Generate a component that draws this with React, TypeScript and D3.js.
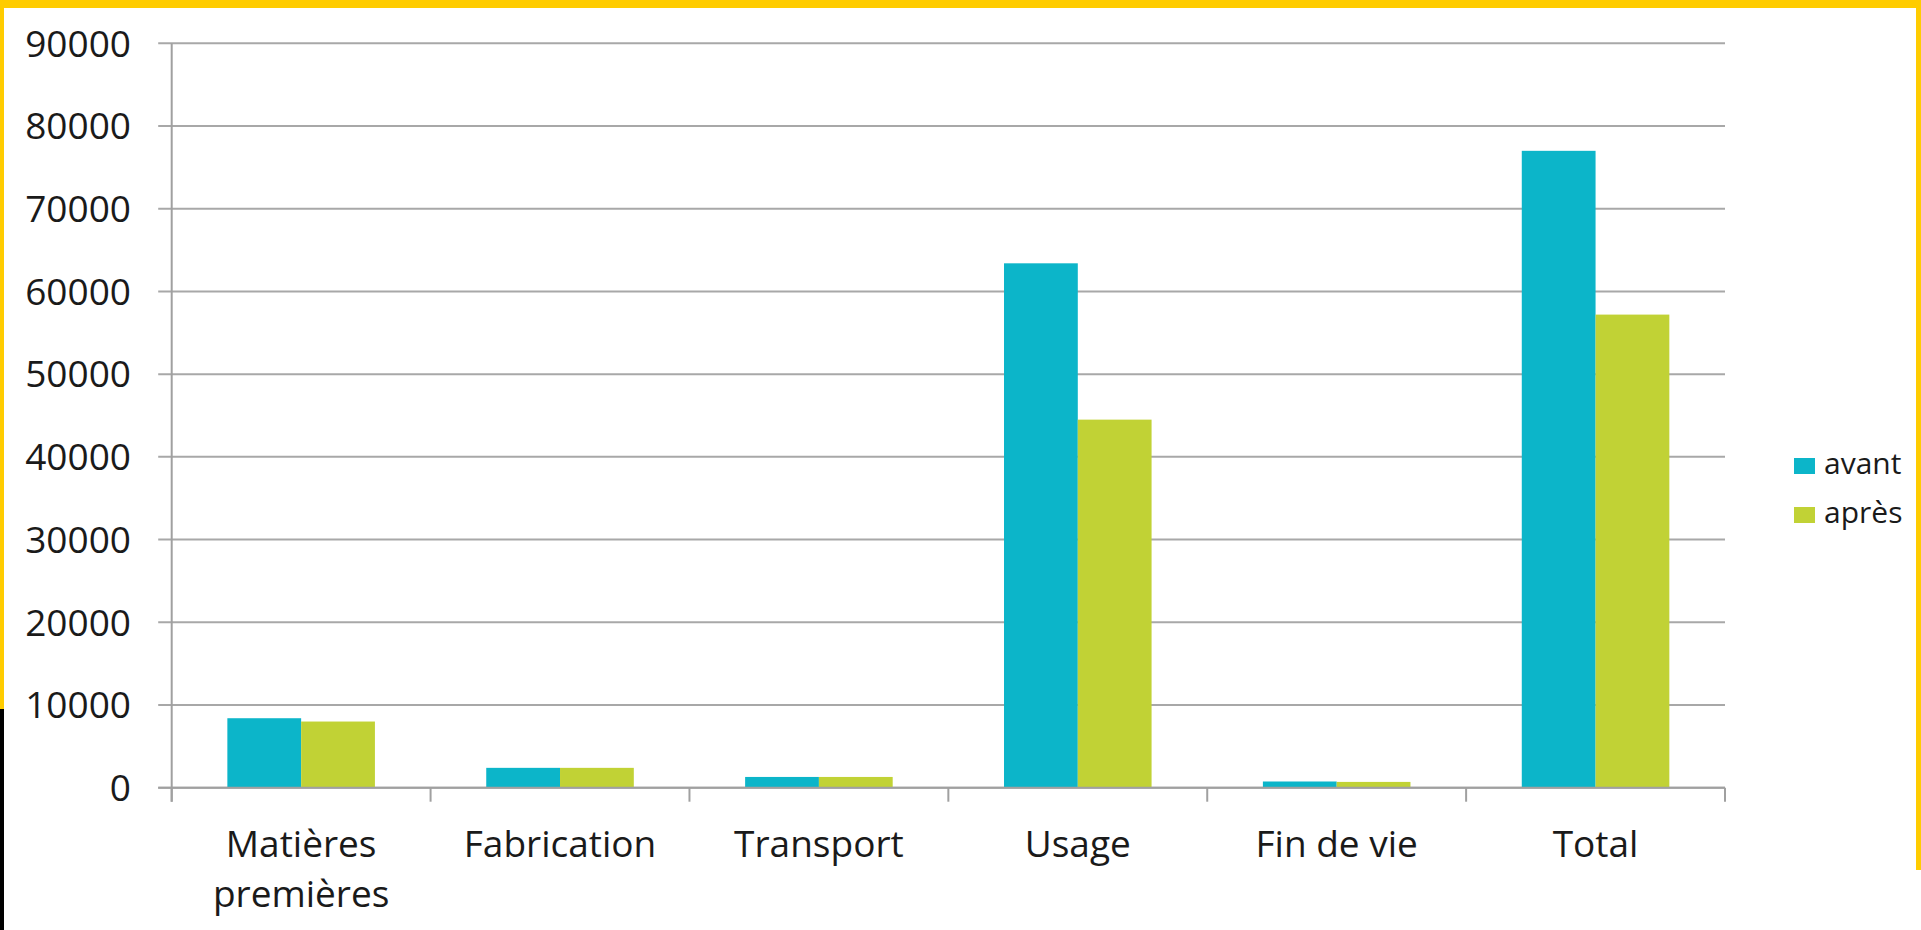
import React, { useEffect, useRef } from "react";
import * as d3 from "d3";

// chart data
const categories = ["Matières premières", "Fabrication", "Transport", "Usage", "Fin de vie", "Total"];
const seriesNames = ["avant", "après"];
const avantValues = [8400, 2400, 1300, 63400, 750, 77000];
const apresValues = [8000, 2400, 1300, 44500, 700, 57200];
const yTicks = [0, 10000, 20000, 30000, 40000, 50000, 60000, 70000, 80000, 90000];

const colors = ["#0cb5c9", "#c1d235"];
const FONT = "'Open Sans', sans-serif";

const App: React.FC = () => {
  const ref = useRef<SVGSVGElement>(null);

  useEffect(() => {
    drawChart();
  }, []);

  const drawChart = () => {
    const width = 1921;
    const height = 930;
    const left = 171.7;
    const right = 1725;
    const top = 43.3;
    const bottom = 787.7;

    const svg = d3.select(ref.current);
    svg.selectAll("*").remove();

    // background and frame
    svg.append("rect").attr("width", width).attr("height", height).attr("fill", "#ffffff");
    svg.append("rect").attr("x", 0).attr("y", 0).attr("width", width).attr("height", 8).attr("fill", "#ffcc00");
    svg.append("rect").attr("x", 0).attr("y", 0).attr("width", 4).attr("height", 709).attr("fill", "#ffcc00");
    svg.append("rect").attr("x", 0).attr("y", 709).attr("width", 4).attr("height", height - 709).attr("fill", "#000000");
    svg.append("rect").attr("x", 1916).attr("y", 0).attr("width", 5).attr("height", 870).attr("fill", "#ffcc00");

    const y = d3.scaleLinear().domain([0, 90000]).range([bottom, top]);
    const x0 = d3
      .scaleBand<string>()
      .domain(categories)
      .range([left, right])
      .paddingInner(0.43)
      .paddingOuter(0.215);
    const x1 = d3.scaleBand<string>().domain(seriesNames).range([0, x0.bandwidth()]);
    const step = x0.step();

    // gridlines (extend left as ticks)
    svg
      .append("g")
      .selectAll("line")
      .data(yTicks)
      .join("line")
      .attr("x1", left - 13.5)
      .attr("x2", right)
      .attr("y1", (d) => y(d))
      .attr("y2", (d) => y(d))
      .attr("stroke", "#a8a8a8")
      .attr("stroke-width", 2);

    // y labels
    svg
      .append("g")
      .selectAll("text")
      .data(yTicks)
      .join("text")
      .attr("x", 131)
      .attr("y", (d) => y(d))
      .attr("dy", "0.36em")
      .attr("text-anchor", "end")
      .style("font-family", FONT)
      .style("font-size", "37px")
      .attr("fill", "#1a1a1a")
      .text((d) => String(d));

    // bars
    const rows = categories.map((c, i) => ({ cat: c, vals: [avantValues[i], apresValues[i]] }));
    const groups = svg
      .append("g")
      .selectAll("g")
      .data(rows)
      .join("g")
      .attr("transform", (d) => `translate(${x0(d.cat)},0)`);
    groups
      .selectAll("rect")
      .data((d) => d.vals.map((v, j) => ({ key: seriesNames[j], v, j })))
      .join("rect")
      .attr("x", (d) => x1(d.key)!)
      .attr("width", x1.bandwidth())
      .attr("y", (d) => y(d.v))
      .attr("height", (d) => bottom - y(d.v))
      .attr("fill", (d) => colors[d.j]);

    // axes
    svg
      .append("line")
      .attr("x1", left)
      .attr("x2", left)
      .attr("y1", top)
      .attr("y2", bottom + 14)
      .attr("stroke", "#a0a0a0")
      .attr("stroke-width", 2);
    svg
      .append("line")
      .attr("x1", left - 13.5)
      .attr("x2", right)
      .attr("y1", bottom)
      .attr("y2", bottom)
      .attr("stroke", "#a0a0a0")
      .attr("stroke-width", 2);
    svg
      .append("g")
      .selectAll("line")
      .data(d3.range(categories.length + 1))
      .join("line")
      .attr("x1", (i) => left + i * step)
      .attr("x2", (i) => left + i * step)
      .attr("y1", bottom)
      .attr("y2", bottom + 14)
      .attr("stroke", "#a0a0a0")
      .attr("stroke-width", 2);

    // category labels (wrapped)
    const labelLines: Record<string, string[]> = { "Matières premières": ["Matières", "premières"] };
    const catLabels = svg
      .append("g")
      .selectAll("text")
      .data(categories)
      .join("text")
      .attr("text-anchor", "middle")
      .style("font-family", FONT)
      .style("font-size", "37px")
      .attr("fill", "#1a1a1a");
    catLabels
      .selectAll("tspan")
      .data((d) => (labelLines[d] || [d]).map((t) => ({ t, c: d })))
      .join("tspan")
      .attr("x", (d) => x0(d.c)! + x0.bandwidth() / 2)
      .attr("y", (_d, i) => 857 + i * 50)
      .text((d) => d.t);

    // legend
    const legend = svg
      .append("g")
      .selectAll("g")
      .data(seriesNames)
      .join("g")
      .attr("transform", (_d, i) => `translate(1794,${458 + i * 49})`);
    legend
      .append("rect")
      .attr("width", 21)
      .attr("height", 16)
      .attr("fill", (_d, i) => colors[i]);
    legend
      .append("text")
      .attr("x", 30)
      .attr("y", 16)
      .style("font-family", FONT)
      .style("font-size", "30px")
      .attr("fill", "#1a1a1a")
      .text((d) => d);
  };

  return (
    <svg
      ref={ref}
      width={1921}
      height={930}
      style={{ position: "absolute", left: 0, top: 0, display: "block" }}
    />
  );
};

export default App;
